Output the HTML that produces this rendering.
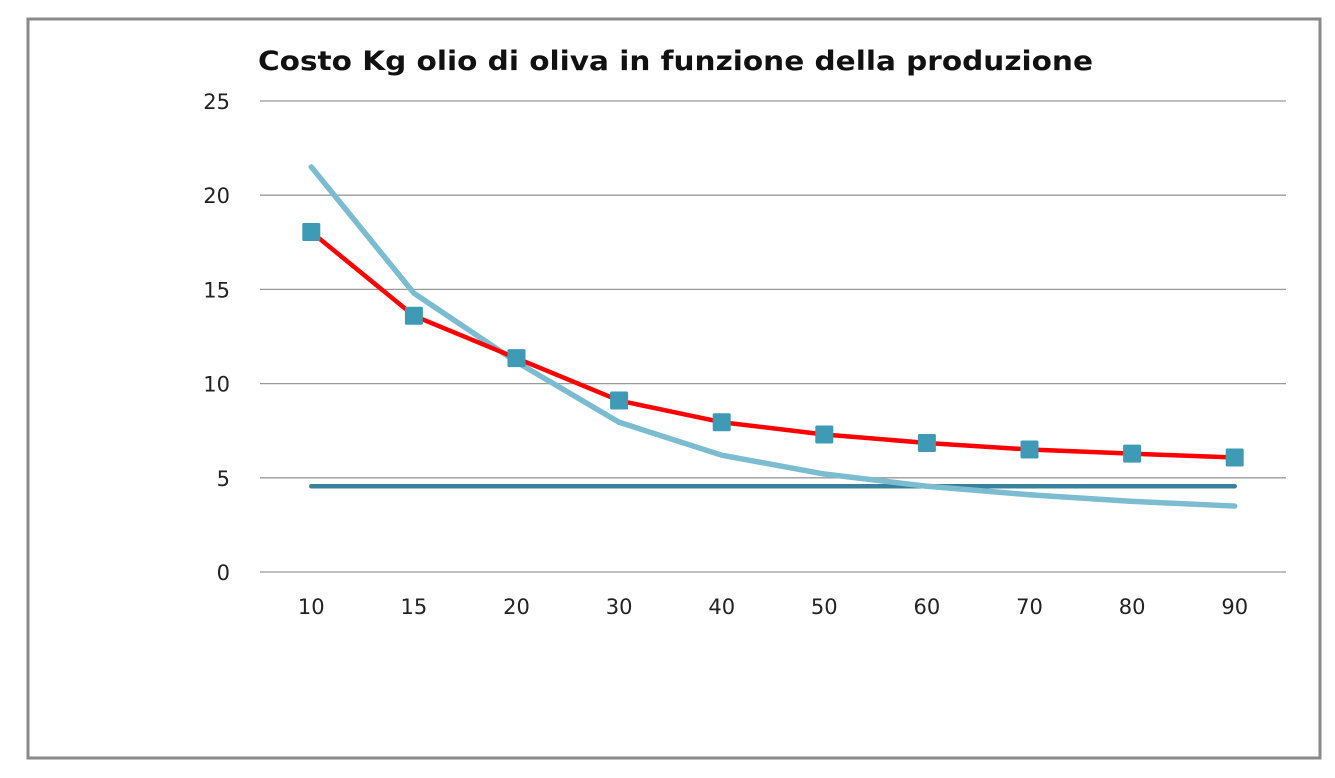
<!DOCTYPE html>
<html><head><meta charset="utf-8"><style>
html,body{margin:0;padding:0;background:#fff;}
svg{display:block;font-family:"DejaVu Sans","Liberation Sans",sans-serif;}
</style></head><body>
<svg width="1335" height="778">
<rect x="28" y="19" width="1292" height="739" fill="#fff" stroke="#8a8a8a" stroke-width="3"/>
<text x="258" y="70" font-size="27" font-weight="bold" fill="#111" textLength="835" lengthAdjust="spacingAndGlyphs">Costo Kg olio di oliva in funzione della produzione</text>
<g id="grid"></g><g id="ylab"></g><g id="xlab"></g><g id="series"></g>
</svg>
<script>
const categories=["10","15","20","30","40","50","60","70","80","90"];
const yTicks=[0,5,10,15,20,25];
const costRed=[18.05,13.6,11.35,9.1,7.95,7.3,6.85,6.5,6.28,6.08];
const costBlue=[21.5,14.8,11.15,7.95,6.2,5.2,4.55,4.1,3.75,3.5];
const flatLine=[4.55,4.55,4.55,4.55,4.55,4.55,4.55,4.55,4.55,4.55];
const NS="http://www.w3.org/2000/svg";
const x0=260,x1=1286,yTop=101,yBot=572;
const step=(x1-x0)/categories.length;
const xs=i=>x0+step*(i+0.5);
const ys=v=>yBot-(v/25)*(yBot-yTop);
function mk(t,a,p){const e=document.createElementNS(NS,t);for(const k in a)e.setAttribute(k,a[k]);p.appendChild(e);return e;}
const grid=document.getElementById('grid'),yl=document.getElementById('ylab'),xl=document.getElementById('xlab'),se=document.getElementById('series');
yTicks.forEach(v=>{
 const l=mk('line',{x1:x0,x2:x1,y1:ys(v),y2:ys(v),stroke:'#999','stroke-width':1.3},grid);
 
 
 const t=mk('text',{x:230,y:ys(v)+8,'text-anchor':'end','font-size':21,fill:'#222'},yl);t.textContent=v;
 
 
});
categories.forEach((c,i)=>{
 const t=mk('text',{x:xs(i),y:614,'text-anchor':'middle','font-size':21,fill:'#222'},xl);t.textContent=c;
 
 
});
function line(arr,color,w,name){
 const p=mk('polyline',{points:arr.map((v,i)=>xs(i)+','+ys(v)).join(' '),fill:'none',stroke:color,'stroke-width':w,'stroke-linecap':'round','stroke-linejoin':'round'},se);
 
 
}
line(flatLine,'#3a8099',4.5,'flat-cost-line');
line(costBlue,'#7bbcd0',5.5,'blue-cost-line');
line(costRed,'#ff0000',4.5,'red-cost-line');
costRed.forEach((v,i)=>{
 const r=mk('rect',{x:xs(i)-9,y:ys(v)-9,width:18,height:18,rx:1.5,fill:'#3f9ab5'},se);
 
 
});
</script>
</body></html>
